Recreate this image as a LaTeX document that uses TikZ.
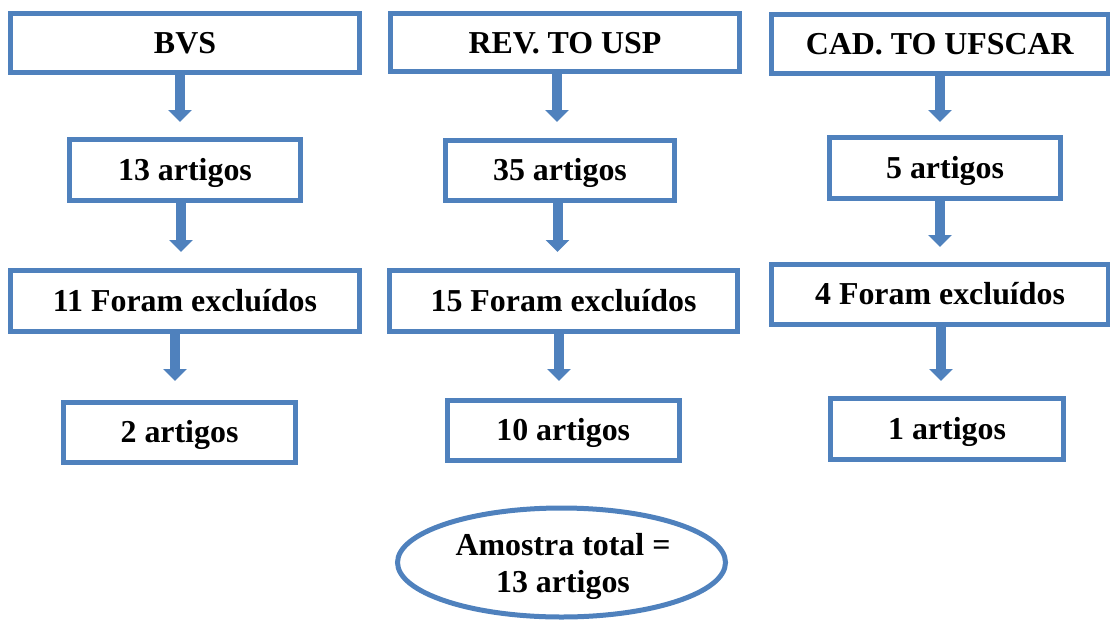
\documentclass[tikz,border=0pt]{standalone}
\usepackage{fontspec}
\setmainfont{Liberation Serif}
\usetikzlibrary{arrows.meta,shapes.geometric}
\definecolor{boxblue}{RGB}{79,129,189}
\begin{document}
\begin{tikzpicture}[x=1pt,y=-1pt,
  txt/.style={font=\fontsize{31.9}{37}\selectfont\bfseries, text=black},
  box/.style={txt, draw=boxblue, line width=5pt, rectangle, inner sep=0pt, outer sep=0pt,
    text height=21pt, text depth=0pt},
  flow/.style={draw=boxblue, line width=10pt,
    -{Triangle[width=23pt,length=12pt]}, color=boxblue}]
\useasboundingbox (0,0) rectangle (1110,621);
% row 1
\node[box, minimum width=349pt, minimum height=59pt] (bvs) at (185,42.5) {BVS};
\node[box, minimum width=349pt, minimum height=58pt] (rev) at (565,42.75) {REV. TO USP};
\node[box, minimum width=337.5pt, minimum height=59pt] (cad) at (939.75,44) {CAD. TO UFSCAR};
% row 2
\node[box, minimum width=231pt, minimum height=61.5pt] (a13) at (185,169.75) {13 artigos};
\node[box, minimum width=229pt, minimum height=60.5pt] (a35) at (560,170.25) {35 artigos};
\node[box, minimum width=231pt, minimum height=61pt] (a5) at (945,168) {5 artigos};
% row 3
\node[box, minimum width=349pt, minimum height=60.5pt] (e11) at (185,300.75) {11 Foram excluídos};
\node[box, minimum width=348pt, minimum height=61pt] (e15) at (563.5,301) {15 Foram excluídos};
\node[box, minimum width=337pt, minimum height=59.5pt] (e4) at (940,294.25) {4 Foram excluídos};
% row 4
\node[box, minimum width=232pt, minimum height=60pt] (a2) at (179.5,432) {2 artigos};
\node[box, minimum width=231.5pt, minimum height=60pt] (a10) at (563.25,430) {10 artigos};
\node[box, minimum width=233pt, minimum height=61.5pt] (a1) at (947,428.75) {1 artigos};
% total
\node[ellipse, draw=boxblue, line width=5pt, inner sep=0pt, outer sep=0pt,
  minimum width=328pt, minimum height=109pt] (tot) at (561.5,562.5) {};
\node[txt, align=center, anchor=base, inner sep=0pt] (totxt) at (563,592) {Amostra total =\\13 artigos};
% arrows column 1
\draw[flow, shorten >=17pt] (bvs.south -| 180,0) -- (a13.north -| 180,0);
\draw[flow, shorten >=18.5pt] (a13.south -| 181,0) -- (e11.north -| 181,0);
\draw[flow, shorten >=21pt] (e11.south -| 175,0) -- (a2.north -| 175,0);
% arrows column 2
\draw[flow, shorten >=18pt] (rev.south -| 557,0) -- (a35.north -| 557,0);
\draw[flow, shorten >=18.5pt] (a35.south -| 557.5,0) -- (e15.north -| 557.5,0);
\draw[flow, shorten >=19pt] (e15.south -| 559,0) -- (a10.north -| 559,0);
% arrows column 3
\draw[flow, shorten >=15.5pt] (cad.south -| 940,0) -- (a5.north -| 940,0);
\draw[flow, shorten >=17.5pt] (a5.south -| 940,0) -- (e4.north -| 940,0);
\draw[flow, shorten >=17pt] (e4.south -| 941,0) -- (a1.north -| 941,0);
\end{tikzpicture}
\end{document}
